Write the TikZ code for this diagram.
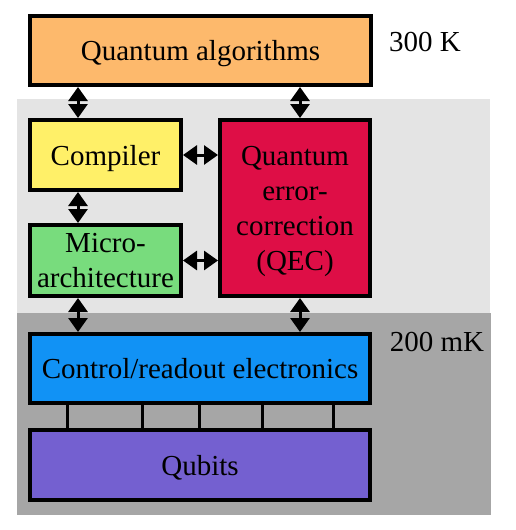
\documentclass[tikz,border=0pt]{standalone}
\usepackage{fontspec}
\setmainfont{Liberation Serif}
\usetikzlibrary{arrows.meta}
\definecolor{cQA}{RGB}{253,185,108}
\definecolor{cComp}{RGB}{255,240,104}
\definecolor{cMicro}{RGB}{120,220,125}
\definecolor{cQEC}{RGB}{222,14,70}
\definecolor{cCtrl}{RGB}{17,146,245}
\definecolor{cQub}{RGB}{116,96,208}
\definecolor{cLight}{RGB}{228,228,228}
\definecolor{cDark}{RGB}{166,166,166}
\tikzset{
  blk/.style={draw=black, line width=4pt, rectangle, inner sep=0pt, align=center,
    font=\fontsize{29}{35}\selectfont, text=black, text depth=0pt},
  dbl/.style={line width=3pt, {Triangle[length=14pt,width=19pt]}-{Triangle[length=14pt,width=19pt]}},
  wire/.style={line width=3pt},
  lbl/.style={font=\fontsize{29}{35}\selectfont, inner sep=0pt}
}
\begin{document}
\begin{tikzpicture}[x=1pt,y=-1pt]
\useasboundingbox (0,0) rectangle (515,530);
\fill[white] (0,0) rectangle (515,530);
% temperature regions
\fill[cLight] (17,99) rectangle (490,313);
\fill[cDark] (17,313) rectangle (491,515);
% blocks
\node[blk, fill=cQA, minimum width=341pt, minimum height=69pt] (qa) at (200.5,50.5) {Quantum algorithms};
\node[blk, fill=cComp, minimum width=151pt, minimum height=70pt] (comp) at (105.5,155) {Compiler};
\node[blk, fill=cMicro, minimum width=151pt, minimum height=71pt] (micro) at (105.5,260.5) {Micro-\\architecture};
\node[blk, fill=cQEC, minimum width=150pt, minimum height=176pt] (qec) at (295,208) {Quantum\\error-\\correction\\(QEC)};
\node[blk, fill=cCtrl, minimum width=340pt, minimum height=69pt] (ctrl) at (200,368.5) {Control/readout electronics};
\node[blk, fill=cQub, minimum width=340pt, minimum height=70pt] (qub) at (200,465) {Qubits};
% labels
\node[lbl] (t300) at (425,42) {300 K};
\node[lbl] (t200) at (437,342) {200 mK};
% arrow columns
\coordinate (lx) at (78,0);
\coordinate (rx) at (300,0);
\draw[dbl] (qa.south -| lx) -- (comp.north -| lx);
\draw[dbl] (comp.south -| lx) -- (micro.north -| lx);
\draw[dbl] (micro.south -| lx) -- (ctrl.north -| lx);
\draw[dbl] (qa.south -| rx) -- (qec.north -| rx);
\draw[dbl] (qec.south -| rx) -- (ctrl.north -| rx);
\draw[dbl] (comp.east) -- (qec.west |- comp.east);
\draw[dbl] (micro.east) -- (qec.west |- micro.east);
% wires
\foreach \i/\xx in {1/67,2/142,3/199,4/262,5/333} {
  \coordinate (w\i) at (\xx,0);
  \draw[wire] (ctrl.south -| w\i) -- (qub.north -| w\i);
}
\end{tikzpicture}
\end{document}
